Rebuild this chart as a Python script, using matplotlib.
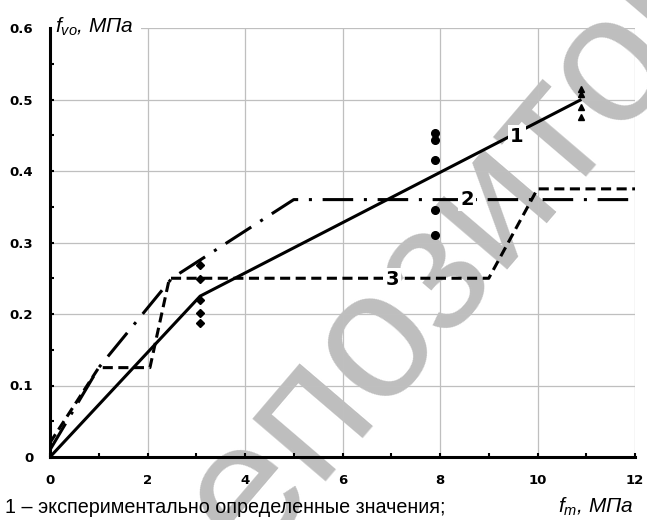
import matplotlib
matplotlib.use('Agg')
import matplotlib.pyplot as plt
import numpy as np

#data
line1_x = [0, 3.08, 10.9]
line1_y = [0, 0.225, 0.5]
line2_x = [0, 1.0, 2.5, 5.0, 12]
line2_y = [0.01, 0.125, 0.25, 0.36, 0.36]
line3_x = [0, 1.0, 2.05, 2.45, 9.0, 10.0, 12]
line3_y = [0.02, 0.125, 0.125, 0.25, 0.25, 0.375, 0.375]

diam_x = 3.08
diam_y = [0.268, 0.249, 0.220, 0.201, 0.187]
circ_x = 7.9
circ_y = [0.453, 0.443, 0.415, 0.345, 0.31]
tri_x = 10.9
tri_y = [0.515, 0.508, 0.49, 0.475]

line_labels = ['1', '2', '3']
label_pos = [(9.58, 0.448), (8.55, 0.36), (7.02, 0.248)]

plt.rcParams['mathtext.fontset'] = 'custom'
plt.rcParams['mathtext.it'] = 'Liberation Sans:italic'
plt.rcParams['mathtext.rm'] = 'Liberation Sans'

fig = plt.figure(figsize=(6.47, 5.2), dpi=100)
fig.patch.set_facecolor('white')
ax = fig.add_axes([50/647, 63/520, 585/647, 429/520])
ax.set_facecolor('none')

#watermark behind the axes
fig.text(0.762, 0.618, 'репозиторий', rotation=49.5, rotation_mode='anchor',
         ha='center', va='center', fontsize=130, color='#bebebe',
         family='Liberation Sans', zorder=-1)

#curves
ax.plot(line1_x, line1_y, color='black', lw=2.2, solid_capstyle='butt', zorder=3)
ax.plot(line2_x, line2_y, color='black', lw=2.2, linestyle=(0, (10, 3.5, 1, 3.5)),
        dash_capstyle='butt', zorder=3)
ax.plot(line3_x, line3_y, color='black', lw=2.2, linestyle=(0, (3.3, 1.8)),
        dash_capstyle='butt', zorder=3)

#experimental points
ax.plot([diam_x]*len(diam_y), diam_y, 'D', color='black', ms=4, zorder=4)
ax.plot([circ_x]*len(circ_y), circ_y, 'o', color='black', ms=5.5, zorder=4)
ax.plot([tri_x]*len(tri_y), tri_y, '^', color='black', ms=4.5, zorder=4)

#curve numbers
for lab, (x, y) in zip(line_labels, label_pos):
  ax.text(x, y, lab, ha='center', va='center', fontsize=14, fontweight='bold',
          bbox=dict(fc='white', ec='none', pad=1.5), zorder=5)

#axes setup
ax.set_xlim(0, 12)
ax.set_ylim(0, 0.6)
ax.set_xticks(np.arange(0, 13, 2))
ax.set_xticks(np.arange(0, 13, 1), minor=True)
ax.set_yticks(np.arange(0, 0.61, 0.1))
ax.set_yticks(np.arange(0, 0.61, 0.05), minor=True)
ax.set_yticklabels(['0', '0.1', '0.2', '0.3', '0.4', '0.5', '0.6'])
ax.grid(which='major', color='#bfbfbf', lw=0.9, zorder=0)
ax.set_axisbelow(True)
for s in ['top', 'right']:
  ax.spines[s].set_visible(False)
for s in ['left', 'bottom']:
  ax.spines[s].set_linewidth(2.2)
ax.tick_params(which='both', direction='in', length=3, width=1.5, color='black')
ax.tick_params(axis='x', pad=12)
ax.tick_params(axis='y', pad=12)
for t in ax.get_xticklabels() + ax.get_yticklabels():
  t.set_fontweight('bold')
  t.set_fontsize(9.5)

#axis captions (label box sits under the spine, over the grid)
ax.text(0.1, 0.594, r'$f_{vo}$, МПа', fontsize=15, style='italic',
        family='Liberation Sans', va='baseline', clip_on=False,
        bbox=dict(fc='white', ec='none', pad=5), zorder=2.4)
fig.text(558/647, 7/520, r'$f_{m}$, МПа', fontsize=15, style='italic',
         family='Liberation Sans', va='baseline')
fig.text(5/647, 7/520, '1 – экспериментально определенные значения;',
         fontsize=14.2, family='Liberation Sans', va='baseline')

plt.savefig('out.png', dpi=100)
